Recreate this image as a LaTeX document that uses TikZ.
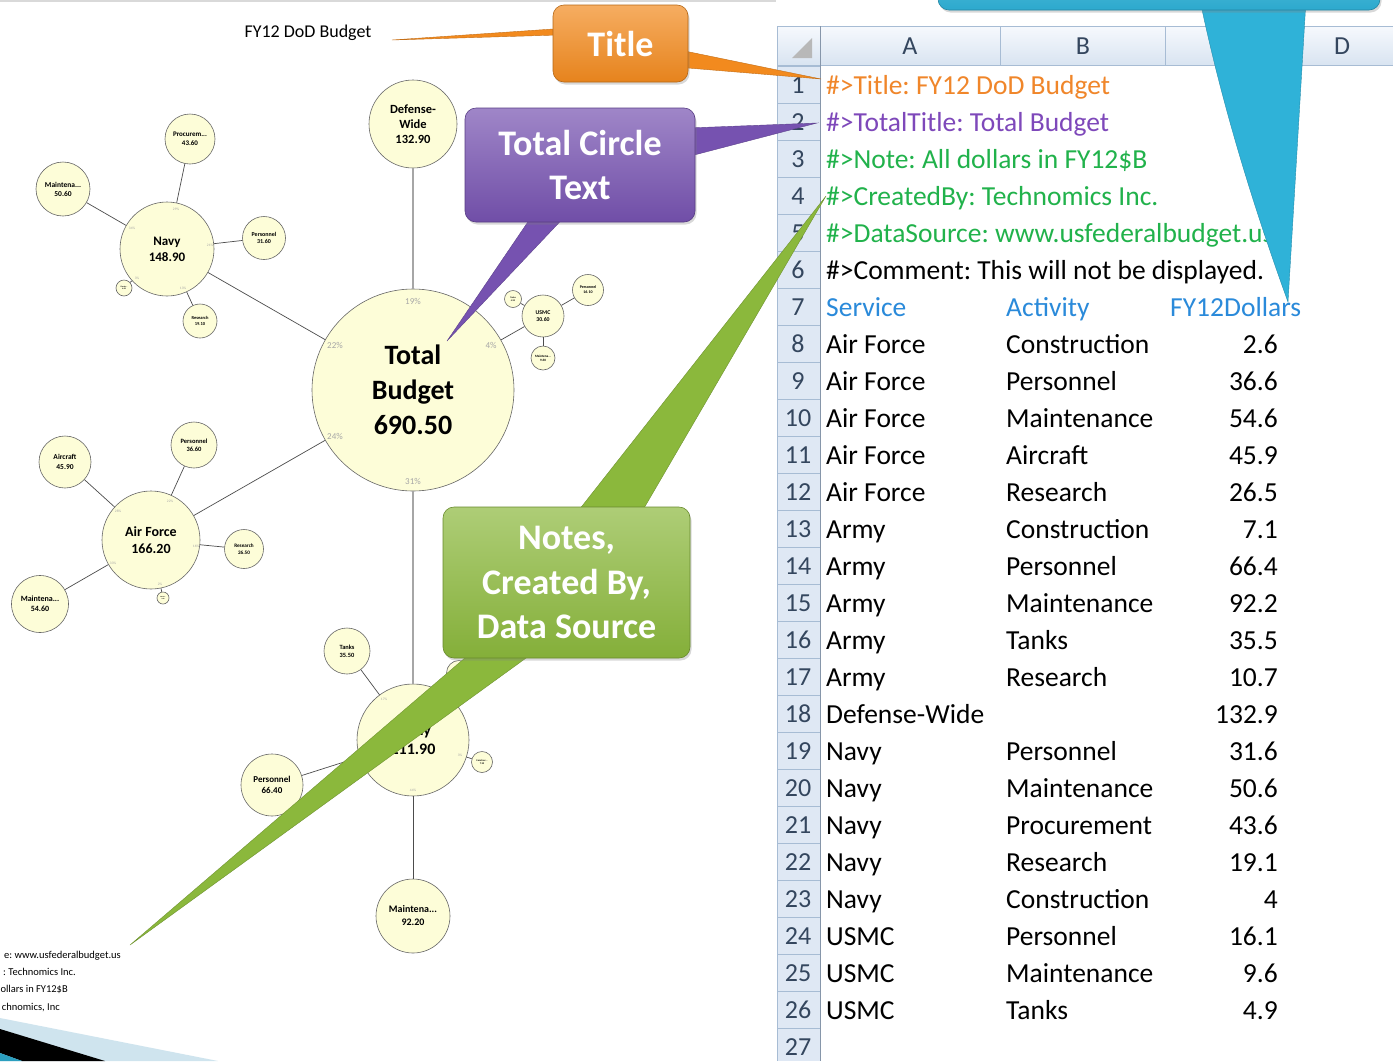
\documentclass[tikz,border=0pt]{standalone}
\usepackage{fontspec}
\setmainfont{Carlito}
\usetikzlibrary{shadows}
\frenchspacing

% Colori
\definecolor{cream}{HTML}{FDFDD8}
\definecolor{orangeC}{HTML}{F28A1E}
\definecolor{purpleC}{HTML}{7652B0}
\definecolor{greenC}{HTML}{8BB83C}
\definecolor{tealC}{HTML}{2FB2D8}
\definecolor{hdrtop}{HTML}{F6F9FD}
\definecolor{hdrbot}{HTML}{D9E4F1}
\definecolor{rowbg}{HTML}{DFE8F4}
\definecolor{gridln}{HTML}{A7BCD4}
\definecolor{rowtxt}{HTML}{34465E}
\definecolor{txtorange}{HTML}{F0862A}
\definecolor{txtpurple}{HTML}{7E48BA}
\definecolor{txtgreen}{HTML}{21B24B}
\definecolor{txtblue}{HTML}{2A8ADA}
\definecolor{decoblue}{HTML}{CFE4EE}
\definecolor{decoteal}{HTML}{2C9FBF}

\newcommand{\setfs}[2]{\fontsize{#1}{#2}\selectfont}

\tikzset{
  bub/.style n args={3}{circle, draw=black!60, line width=0.6pt, fill=cream, inner sep=0pt,
    align=center, minimum size=#1, font=\setfs{#2}{#3}\bfseries},
  link/.style={black!70, line width=0.7pt},
  trunk/.style={black!35, line width=1.3pt},
  pct/.style={text=black!35, inner sep=0pt, font=\setfs{#1}{#1}},
  pct/.default=3.5,
  foot/.style={anchor=base east, inner sep=0pt, font=\setfs{10.5}{12}},
  rownum/.style={text=rowtxt, inner sep=0pt, font=\setfs{26}{30}},
  colhead/.style={text=rowtxt, inner sep=0pt, font=\setfs{26}{30}},
  cell/.style={anchor=base west, inner sep=0pt, font=\setfs{27.5}{32}},
  amt/.style={anchor=base east, inner sep=0pt, font=\setfs{27.5}{32}},
  callout/.style={rounded corners=11pt, draw=#1!75!black, line width=0.6pt,
    top color=#1!70!white, bottom color=#1!95!black, text=white, align=center, inner sep=0pt,
    font=\setfs{36}{44.5}\bfseries,
    drop shadow={opacity=0.3, shadow xshift=1.5pt, shadow yshift=-2.5pt}},
  pointer/.style={fill=#1, draw=#1!80!black, line width=0.4pt},
}

\begin{document}
\begin{tikzpicture}[x=1pt, y=-1pt]
  \useasboundingbox (0,0) rectangle (1393,1061);
  \fill[white] (0,0) rectangle (1393,1061);
  \draw[black!15, line width=1.5pt] (0,1) -- (776,1); % bordo immagine

  % Titolo del grafico
  \node[font=\setfs{18}{20}] (charttitle) at (308,33) {FY12 DoD Budget};

  % Bolle principali
  \node[bub={202}{28}{35}] (tot) at (413,390) {Total\\Budget\\690.50};
  \node[bub={88}{12.5}{15}] (dw) at (413,124) {Defense-\\Wide\\132.90};
  \node[bub={94}{13}{16}] (navy) at (167,249) {Navy\\148.90};
  \node[bub={42}{5.8}{7.5}] (usmc) at (543,316) {USMC\\30.60};
  \node[bub={98}{14}{17}] (af) at (151,540) {Air Force\\166.20};
  \node[bub={112}{16}{19}] (army) at (413,740) {Army\\211.90};

  % Navy
  \node[bub={50}{7}{8.5}] (nproc) at (190,139) {Procurem...\\43.60};
  \node[bub={54}{7.5}{9}] (nmaint) at (63,189) {Maintena...\\50.60};
  \node[bub={43}{6}{7.5}] (npers) at (264,238) {Personnel\\31.60};
  \node[bub={34}{4.5}{6}] (nres) at (200,321) {Research\\19.10};
  \node[bub={16}{2}{2.5}] (ncons) at (124,288) {Constr...\\4.00};

  % USMC
  \node[bub={31}{4}{5}] (upers) at (588,290) {Personnel\\16.10};
  \node[bub={17}{2.3}{3}] (utank) at (513,299) {Tanks\\4.90};
  \node[bub={24}{3.3}{4}] (umaint) at (543,358) {Maintena...\\9.60};

  % Air Force
  \node[bub={52}{7.5}{10}] (aair) at (65,462) {Aircraft\\45.90};
  \node[bub={46}{6.5}{8}] (apers) at (194,445) {Personnel\\36.60};
  \node[bub={39}{5.2}{7}] (ares) at (244,549) {Research\\26.50};
  \node[bub={57}{8}{10}] (amaint) at (40,604) {Maintena...\\54.60};
  \node[bub={12}{1.6}{2}] (acons) at (163,598) {Constr...\\2.60};

  % Army
  \node[bub={46}{6.4}{8}] (rtank) at (347,651) {Tanks\\35.50};
  \node[bub={62}{9}{11}] (rpers) at (272,785) {Personnel\\66.40};
  \node[bub={74}{10}{13}] (rmaint) at (413,916) {Maintena...\\92.20};
  \node[bub={21}{2.5}{3}] (rcons) at (482,762) {Construc...\\7.10};
  \node[bub={25}{3}{3.5}] (rres) at (459,673) {Research\\10.70};

  % Collegamenti
  \draw[trunk] (tot) -- (dw);
  \draw[trunk] (tot) -- (army);
  \draw[link] (tot) -- (navy);
  \draw[link] (tot) -- (af);
  \draw[link] (tot) -- (usmc);
  \foreach \c in {nproc,nmaint,npers,nres,ncons} \draw[link] (navy) -- (\c);
  \foreach \c in {upers,utank,umaint} \draw[link] (usmc) -- (\c);
  \foreach \c in {aair,apers,ares,amaint,acons} \draw[link] (af) -- (\c);
  \foreach \c in {rtank,rpers,rmaint,rcons,rres} \draw[link] (army) -- (\c);

  % Percentuali
  \node[pct=9] (p19) at (413,301) {19\%};
  \node[pct=9] (p22) at (335,345) {22\%};
  \node[pct=9] (p4) at (491,345) {4\%};
  \node[pct=9] (p24) at (335,436) {24\%};
  \node[pct=9] (p31) at (413,481) {31\%};
  \node[pct] at (176,209) {29\%}; \node[pct] at (132,228) {34\%};
  \node[pct] at (210,245) {21\%}; \node[pct] at (137,278) {3\%};
  \node[pct] at (183,288) {13\%};
  \node[pct] at (170,501) {22\%}; \node[pct] at (118,511) {28\%};
  \node[pct] at (196,546) {16\%}; \node[pct] at (113,563) {33\%};
  \node[pct] at (160,584) {2\%};
  \node[pct] at (384,699) {17\%}; \node[pct] at (460,755) {3\%};
  \node[pct] at (413,790) {44\%}; \node[pct] at (368,755) {31\%};

  % Note in basso (tagliate dal bordo)
  \node[foot] (fsrc) at (121,958) {e: www.usfederalbudget.us};
  \node[foot] (fby) at (76,975) {: Technomics Inc.};
  \node[foot] (fnote) at (68,992) {ollars in FY12\$B};
  \node[foot] (fcopy) at (60,1010) {chnomics, Inc};

  % Decorazione in basso a sinistra
  \fill[decoblue] (0,1018) -- (218,1061) -- (0,1061) -- cycle;
  \fill[black] (0,1029) -- (105,1061) -- (22,1061) -- (0,1053) -- cycle;
  \fill[decoteal] (0,1053) -- (22,1061) -- (0,1061) -- cycle;

  % Foglio di calcolo
  \shade[top color=hdrtop, bottom color=hdrbot] (777,26) rectangle (1393,65);
  \fill[rowbg] (777,65) rectangle (820,1061);
  \foreach \r in {0,...,27}
    \draw[gridln, line width=0.8pt] (777,{66+\r*37}) -- (820,{66+\r*37});
  \draw[gridln, line width=1pt] (777,26) -- (1393,26);
  \draw[gridln, line width=1pt] (777,65) -- (1393,65);
  \draw[gridln, line width=1pt] (777,26) -- (777,1061);
  \draw[gridln!80!black, line width=1pt] (820,26) -- (820,1061);
  \foreach \x in {1000,1165,1292}
    \draw[gridln, line width=1pt] (\x,26) -- (\x,65);
  \fill[black!28] (812,38) -- (812,58) -- (792,58) -- cycle; % angolo

  % Intestazioni colonne
  \node[colhead] (colA) at (910,46) {A};
  \node[colhead] (colB) at (1083,46) {B};
  \node[colhead] (colC) at (1228,46) {C};
  \node[colhead] (colD) at (1342,46) {D};

  % Numeri di riga
  \foreach \r in {1,...,27}
    \node[rownum] (n\r) at (798,{85+(\r-1)*37}) {\r};

  % Righe di intestazione
  \node[cell, text=txtorange] (t1) at (826,94) {\#>Title: FY12 DoD Budget};
  \node[cell, text=txtpurple] (t2) at (826,131) {\#>TotalTitle: Total Budget};
  \node[cell, text=txtgreen] (t3) at (826,168) {\#>Note: All dollars in FY12\$B};
  \node[cell, text=txtgreen] (t4) at (826,205) {\#>CreatedBy: Technomics Inc.};
  \node[cell, text=txtgreen] (t5) at (826,242) {\#>DataSource: www.usfederalbudget.us};
  \node[cell] (t6) at (826,279) {\#>Comment: This will not be displayed.};
  \node[cell, text=txtblue] (hsvc) at (826,316) {Service};
  \node[cell, text=txtblue] (hact) at (1006,316) {Activity};
  \node[cell, text=txtblue] (hamt) at (1170,316) {FY12Dollars};

  % Dati
  \foreach \n/\svc/\act/\amt in {8/Air Force/Construction/2.6, 9/Air Force/Personnel/36.6,
      10/Air Force/Maintenance/54.6, 11/Air Force/Aircraft/45.9, 12/Air Force/Research/26.5,
      13/Army/Construction/7.1, 14/Army/Personnel/66.4, 15/Army/Maintenance/92.2,
      16/Army/Tanks/35.5, 17/Army/Research/10.7, 18/Defense-Wide/{}/132.9,
      19/Navy/Personnel/31.6, 20/Navy/Maintenance/50.6, 21/Navy/Procurement/43.6,
      22/Navy/Research/19.1, 23/Navy/Construction/4, 24/USMC/Personnel/16.1,
      25/USMC/Maintenance/9.6, 26/USMC/Tanks/4.9}
  {
    \node[cell] (a\n) at (826,{94+(\n-1)*37}) {\svc};
    \node[cell] (b\n) at (1006,{94+(\n-1)*37}) {\act};
    \node[amt] (c\n) at (1278,{94+(\n-1)*37}) {\amt};
  }

  % Fumetto Title (arancione)
  \coordinate (ttlL) at (392,40);
  \coordinate (ttlR) at (821,79);
  \fill[pointer=orangeC] (575,27.5) -- (ttlL) -- (575,34.5) -- cycle;
  \fill[pointer=orangeC] (670,48) -- (ttlR) -- (670,66.5) -- cycle;
  \node[callout=orangeC, minimum width=135, minimum height=77] (ttl) at (620.5,43.5) {Title};

  % Fumetto Total Circle Text (viola)
  \coordinate (totR) at (817,123);
  \coordinate (totC) at (447,341);
  \fill[pointer=purpleC] (675,128.5) -- (totR) -- (675,160) -- cycle;
  \fill[pointer=purpleC] (536,210) -- (totC) -- (571,210) -- cycle;
  \node[callout=purpleC, minimum width=230, minimum height=114] (tct) at (580,165) {Total Circle\\Text};

  % Fumetto Notes (verde)
  \coordinate (ntsR) at (826,196);
  \coordinate (ntsL) at (130,945);
  \fill[pointer=greenC] (575,515) -- (ntsR) -- (640,515) -- cycle;
  \fill[pointer=greenC] (480,645) -- (ntsL) -- (544,645) -- cycle;
  \node[callout=greenC, minimum width=247, minimum height=151] (nts) at (566.5,582.5) {Notes,\\Created By,\\Data Source};

  % Fumetto in alto (azzurro)
  \coordinate (tealT) at (1288,302);
  \fill[pointer=tealC] (1200,0) .. controls (1225,120) and (1262,230) .. (tealT) -- (1306,0) -- cycle;
  \node[callout=tealC, minimum width=442, minimum height=70] (tbox) at (1159,-25) {};
\end{tikzpicture}
\end{document}
